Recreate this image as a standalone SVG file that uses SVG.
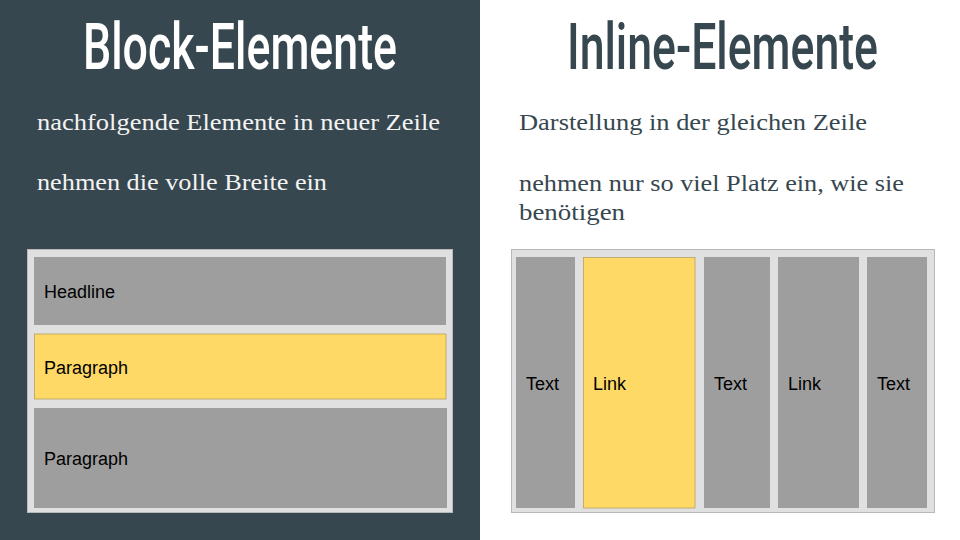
<svg xmlns="http://www.w3.org/2000/svg" width="960" height="540" viewBox="0 0 960 540">
  <style>
    .title { font-family: "Roboto", "Liberation Sans", sans-serif; font-size: 46px; font-weight: 500; }
    .body { font-family: "Liberation Serif", "DejaVu Serif", serif; font-size: 24px; }
    .label { font-family: "Liberation Sans", Arial, sans-serif; font-size: 18px; fill: #000000; }
    .frame { fill: #e0e0e0; stroke: #b8b8b8; stroke-width: 1; }
    .gray { fill: #9e9e9e; }
    .yellow { fill: #ffd966; stroke: #b8a060; stroke-width: 0.8; }
  </style>

  <!-- panels -->
  <rect x="0" y="0" width="480" height="540" fill="#37474f"/>
  <rect x="480" y="0" width="480" height="540" fill="#ffffff"/>

  <!-- block side; headings are stretched tall to get a condensed look -->
  <g transform="scale(1,1.4)">
    <text class="title" x="83" y="49.3" fill="#ffffff" textLength="314" lengthAdjust="spacingAndGlyphs">Block-Elemente</text>
  </g>
  <text class="body" x="37" y="130" fill="#f3f3f3" textLength="403" lengthAdjust="spacingAndGlyphs">nachfolgende Elemente in neuer Zeile</text>
  <text class="body" x="37" y="190" fill="#f3f3f3" textLength="290" lengthAdjust="spacingAndGlyphs">nehmen die volle Breite ein</text>

  <g id="block-frame">
    <rect class="frame" x="27.5" y="249.5" width="425" height="263"/>
  </g>
  <g id="block-headline">
    <rect class="gray" x="34" y="257" width="412" height="68"/>
    <text class="label" x="44" y="298">Headline</text>
  </g>
  <g id="block-paragraph-1">
    <rect class="yellow" x="34.5" y="334" width="411.5" height="65"/>
    <text class="label" x="44" y="374">Paragraph</text>
  </g>
  <g id="block-paragraph-2">
    <rect class="gray" x="34" y="408" width="413" height="100"/>
    <text class="label" x="44" y="465">Paragraph</text>
  </g>

  <!-- inline side -->
  <g transform="scale(1,1.4)">
    <text class="title" x="567" y="49.3" fill="#37474f" textLength="311" lengthAdjust="spacingAndGlyphs">Inline-Elemente</text>
  </g>
  <text class="body" x="519" y="130" fill="#37474f" textLength="348" lengthAdjust="spacingAndGlyphs">Darstellung in der gleichen Zeile</text>
  <text class="body" x="519" y="191" fill="#37474f" textLength="385" lengthAdjust="spacingAndGlyphs">nehmen nur so viel Platz ein, wie sie</text>
  <text class="body" x="519" y="220" fill="#37474f" textLength="106" lengthAdjust="spacingAndGlyphs">benötigen</text>

  <g id="inline-frame">
    <rect class="frame" x="511.5" y="249.5" width="423" height="263"/>
  </g>
  <g id="inline-text-1">
    <rect class="gray" x="516" y="257" width="59" height="251"/>
    <text class="label" x="526" y="390">Text</text>
  </g>
  <g id="inline-link-1">
    <rect class="yellow" x="583.5" y="257.5" width="111.5" height="250.5"/>
    <text class="label" x="593" y="390">Link</text>
  </g>
  <g id="inline-text-2">
    <rect class="gray" x="704" y="257" width="66" height="251"/>
    <text class="label" x="714" y="390">Text</text>
  </g>
  <g id="inline-link-2">
    <rect class="gray" x="778" y="257" width="81" height="251"/>
    <text class="label" x="788" y="390">Link</text>
  </g>
  <g id="inline-text-3">
    <rect class="gray" x="867" y="257" width="60" height="251"/>
    <text class="label" x="877" y="390">Text</text>
  </g>

  <g id="connectors"/>
</svg>
